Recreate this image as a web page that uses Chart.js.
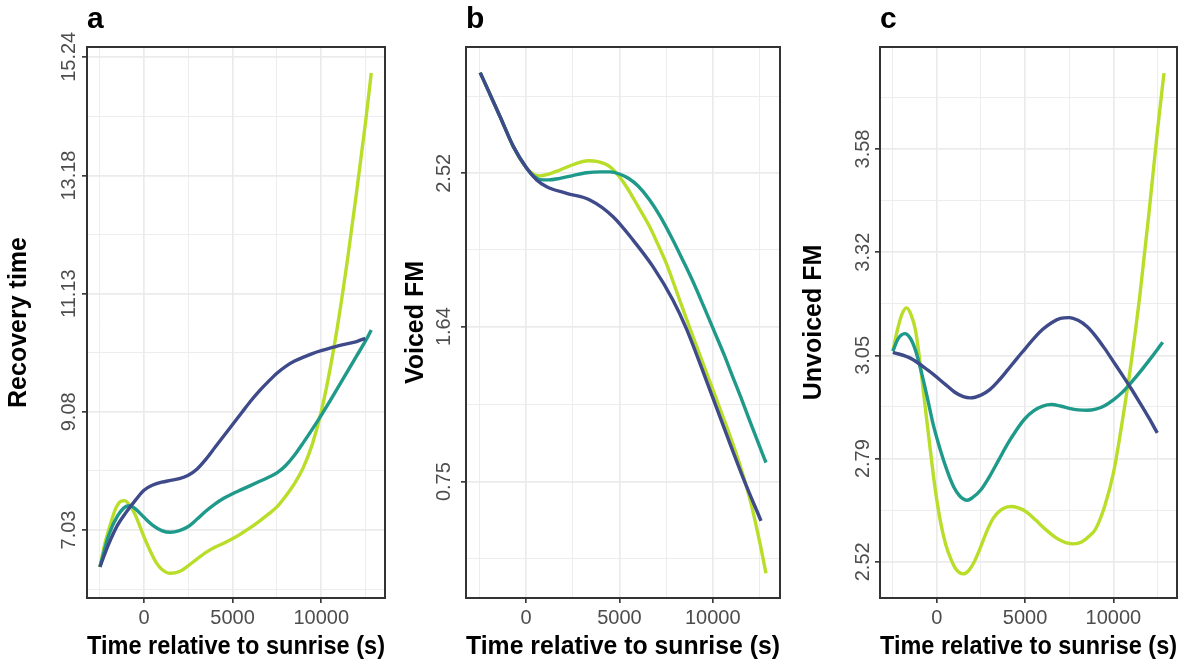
<!DOCTYPE html>
<html>
<head>
<meta charset="utf-8">
<script src="https://cdn.jsdelivr.net/npm/chart.js@4.4.1/dist/chart.umd.min.js"></script>
<style>
  html, body { margin: 0; padding: 0; background: #ffffff; }
  #fig { position: relative; width: 1202px; height: 664px; overflow: hidden; background: #ffffff; }
  .panel { position: absolute; top: 0; height: 664px; }
  .panel canvas { display: block; }
</style>
</head>
<body>
<div id="fig">
  <div class="panel" style="left:0px;width:400px"><canvas id="panelA"></canvas></div>
  <div class="panel" style="left:400px;width:400px"><canvas id="panelB"></canvas></div>
  <div class="panel" style="left:800px;width:402px"><canvas id="panelC"></canvas></div>
</div>
<script>
// ---- shared x axis (seconds relative to sunrise) ----
const timeTicks = [-2500, 0, 2500, 5000, 7500, 10000, 12500];
const timeTickLabels = ['', '0', '', '5000', '', '10000', ''];

// ---- a: recovery time ----
const recoveryTicks = [6.005, 7.03, 8.055, 9.08, 10.105, 11.13, 12.155, 13.18, 14.21, 15.24];
const recoveryTickLabels = ['', '7.03', '', '9.08', '', '11.13', '', '13.18', '', '15.24'];
const recoveryTimeBlue = [-2486, -2000, -1500, -1000, -500, 0, 500, 1000, 1500, 2000, 2500, 3000, 3500, 4000, 4500, 5000, 5500, 6000, 6500, 7000, 7500, 8000, 8500, 9000, 9500, 10000, 11000, 12000, 12486];
const recoveryBlue = [6.39, 6.78, 7.11, 7.34, 7.54, 7.72, 7.81, 7.86, 7.89, 7.92, 7.98, 8.09, 8.26, 8.46, 8.66, 8.86, 9.06, 9.26, 9.44, 9.60, 9.75, 9.87, 9.96, 10.03, 10.09, 10.14, 10.23, 10.30, 10.355];
const recoveryTimeTeal = [-2486, -2000, -1500, -1000, -800, -500, 0, 500, 1000, 1500, 2000, 2500, 3000, 3500, 4000, 4500, 5000, 5500, 6000, 6500, 7000, 7500, 8000, 8500, 9000, 9500, 10000, 10500, 11000, 11500, 12000, 12500, 12825];
const recoveryTeal = [6.39, 6.93, 7.27, 7.44, 7.45, 7.40, 7.25, 7.11, 7.02, 6.99, 7.02, 7.09, 7.22, 7.36, 7.48, 7.58, 7.66, 7.73, 7.80, 7.87, 7.94, 8.02, 8.15, 8.33, 8.55, 8.78, 9.02, 9.27, 9.53, 9.79, 10.05, 10.31, 10.5];
const recoveryTimeLime = [-2486, -2200, -1900, -1600, -1300, -1100, -800, -500, -200, 0, 300, 700, 1000, 1469, 2000, 2412, 3000, 3542, 4000, 4500, 5045, 5500, 6000, 6500, 7000, 7500, 8000, 8500, 9000, 9500, 10000, 10500, 11000, 11500, 12000, 12500, 12825];
const recoveryLime = [6.39, 6.80, 7.12, 7.40, 7.53, 7.54, 7.46, 7.30, 7.07, 6.91, 6.70, 6.46, 6.35, 6.28, 6.31, 6.39, 6.53, 6.65, 6.73, 6.80, 6.885, 6.97, 7.07, 7.18, 7.30, 7.43, 7.62, 7.84, 8.12, 8.52, 9.08, 9.82, 10.72, 11.76, 12.90, 14.10, 14.96];

// ---- b: voiced FM ----
const voicedTicks = [0.3075, 0.75, 1.195, 1.64, 2.08, 2.52, 2.96];
const voicedTickLabels = ['', '0.75', '', '1.64', '', '2.52', ''];
const voicedTimeBlue = [-2456, -2000, -1388, -678, 37, 571, 1105, 2173, 3417, 4661, 5729, 6797, 7864, 8580, 9648, 10716, 11604, 12582];
const voicedBlue = [3.098, 2.99, 2.845, 2.673, 2.549, 2.482, 2.443, 2.405, 2.367, 2.271, 2.137, 1.984, 1.793, 1.63, 1.333, 1.027, 0.778, 0.525];
const voicedTimeTeal = [-2456, -2000, -1388, -678, 37, 400, 747, 1200, 1815, 2500, 3240, 4000, 4500, 5000, 5500, 6000, 6620, 7200, 7864, 8400, 8932, 9500, 10090, 10600, 11068, 11500, 11960, 12400, 12850];
const voicedTeal = [3.098, 2.99, 2.845, 2.673, 2.549, 2.505, 2.484, 2.482, 2.491, 2.507, 2.523, 2.528, 2.528, 2.516, 2.49, 2.447, 2.367, 2.27, 2.137, 2.02, 1.90, 1.76, 1.61, 1.48, 1.352, 1.235, 1.104, 0.982, 0.859];
const voicedTimeLime = [-2456, -2000, -1388, -678, 37, 400, 747, 1200, 1815, 2500, 3326, 3900, 4485, 5000, 5376, 6000, 6620, 7050, 7512, 8100, 8740, 9400, 10000, 10500, 11000, 11500, 12000, 12500, 12850];
const voicedLime = [3.098, 2.99, 2.845, 2.673, 2.549, 2.515, 2.505, 2.515, 2.539, 2.569, 2.592, 2.585, 2.558, 2.50, 2.443, 2.33, 2.213, 2.115, 2.003, 1.83, 1.64, 1.45, 1.28, 1.135, 0.99, 0.83, 0.645, 0.41, 0.224];

// ---- c: unvoiced FM ----
const unvoicedTicks = [2.52, 2.6525, 2.785, 2.9175, 3.05, 3.1825, 3.315, 3.4475, 3.58, 3.7125];
const unvoicedTickLabels = ['2.52', '', '2.79', '', '3.05', '', '3.32', '', '3.58', ''];
const unvoicedTimeBlue = [-2486, -1500, -500, 500, 1000, 1500, 1900, 2500, 3000, 3500, 4000, 4500, 5000, 5500, 6000, 6500, 7000, 7500, 8000, 8500, 9000, 9500, 10000, 10500, 11000, 11500, 12000, 12486];
const unvoicedBlue = [3.058, 3.043, 3.012, 2.975, 2.956, 2.944, 2.941, 2.948, 2.962, 2.985, 3.012, 3.040, 3.067, 3.094, 3.117, 3.134, 3.145, 3.147, 3.140, 3.124, 3.099, 3.068, 3.034, 3.000, 2.965, 2.928, 2.890, 2.851];
const unvoicedTimeTeal = [-2486, -2200, -1808, -1500, -1203, -900, -542, -200, 209, 600, 960, 1300, 1718, 2000, 2500, 3000, 3500, 4000, 4500, 5000, 5500, 6000, 6500, 7000, 7500, 8000, 8500, 9000, 9500, 10000, 10500, 11000, 11500, 12000, 12500, 12790];
const unvoicedTeal = [3.061, 3.092, 3.106, 3.094, 3.063, 3.012, 2.943, 2.872, 2.806, 2.752, 2.712, 2.689, 2.678, 2.684, 2.705, 2.74, 2.781, 2.822, 2.858, 2.888, 2.908, 2.920, 2.924, 2.920, 2.914, 2.910, 2.909, 2.912, 2.921, 2.936, 2.955, 2.980, 3.007, 3.036, 3.066, 3.084];
const unvoicedTimeLime = [-2486, -2237, -1980, -1720, -1460, -1203, -1000, -700, -400, -100, 200, 500, 800, 1100, 1491, 1800, 2100, 2500, 2847, 3200, 3599, 4000, 4260, 4700, 5107, 5600, 6237, 6800, 7300, 7740, 8200, 8684, 9000, 9500, 10000, 10500, 11000, 11500, 12000, 12500, 12864];
const unvoicedLime = [3.061, 3.114, 3.155, 3.172, 3.155, 3.114, 3.05, 2.935, 2.82, 2.71, 2.625, 2.565, 2.527, 2.500, 2.489, 2.497, 2.518, 2.56, 2.60, 2.632, 2.652, 2.661, 2.662, 2.657, 2.647, 2.627, 2.60, 2.58, 2.569, 2.566, 2.571, 2.588, 2.605, 2.662, 2.748, 2.880, 3.030, 3.205, 3.41, 3.63, 3.775];

// ---- styling ----
const COLOR_BLUE = '#3E4A89';
const COLOR_TEAL = '#1F9A8A';
const COLOR_LIME = '#B8DE29';
const FONT = "'Liberation Sans', Arial, Helvetica, sans-serif";
const GRID = '#EBEBEB';
const INK = '#333333';
const TICK_TEXT = '#4D4D4D';

function points(xs, ys) { return xs.map((x, i) => ({ x: x, y: ys[i] })); }

function series(xs, ys, color) {
  return {
    data: points(xs, ys),
    borderColor: color,
    backgroundColor: color,
    borderWidth: 3.4,
    pointRadius: 0,
    fill: false,
    cubicInterpolationMode: 'monotone',
    borderCapStyle: 'butt',
    borderJoinStyle: 'round'
  };
}

function tickObjects(values, labels) {
  return values.map((v, i) => ({ value: v, text: labels[i], minor: labels[i] === '' }));
}

// panel frame, rotated y tick labels and the panel letter
const panelDecor = {
  id: 'panelDecor',
  afterDatasetsDraw(chart) {
    const { ctx, chartArea } = chart;
    ctx.save();
    ctx.strokeStyle = INK;
    ctx.lineWidth = 2;
    ctx.strokeRect(chartArea.left, chartArea.top, chartArea.right - chartArea.left, chartArea.bottom - chartArea.top);
    ctx.restore();
  },
  afterDraw(chart, args, opts) {
    const { ctx, chartArea } = chart;
    const yScale = chart.scales.y;
    ctx.save();
    ctx.fillStyle = TICK_TEXT;
    ctx.font = '20px ' + FONT;
    ctx.textAlign = 'center';
    ctx.textBaseline = 'middle';
    yScale.ticks.forEach(t => {
      if (t.minor) return;
      const py = yScale.getPixelForValue(t.value);
      ctx.save();
      ctx.translate(opts.labelX, py);
      ctx.rotate(-Math.PI / 2);
      ctx.fillText(t.text, 0, 0);
      ctx.restore();
    });
    ctx.fillStyle = '#000000';
    ctx.font = 'bold 30px ' + FONT;
    ctx.textAlign = 'left';
    ctx.textBaseline = 'alphabetic';
    ctx.fillText(opts.tag, chartArea.left, 28);
    ctx.restore();
  }
};

function gridOptions() {
  return {
    color: GRID,
    lineWidth: c => (c.tick && c.tick.minor ? 0.9 : 1.7),
    drawTicks: true,
    tickLength: 5,
    tickWidth: 1.6,
    tickColor: c => (c.tick && c.tick.minor ? 'rgba(0,0,0,0)' : INK)
  };
}

function makePanel(canvasId, cfg) {
  const yTickObjs = tickObjects(cfg.yTicks, cfg.yLabels);
  const xTickObjs = tickObjects(timeTicks, timeTickLabels);
  return new Chart(document.getElementById(canvasId), {
    type: 'line',
    data: { datasets: cfg.datasets },
    plugins: [panelDecor],
    options: {
      responsive: true,
      maintainAspectRatio: false,
      animation: false,
      devicePixelRatio: 1,
      events: [],
      layout: { padding: { left: 0, right: cfg.padRight, top: 47, bottom: 0 } },
      plugins: {
        legend: { display: false },
        tooltip: { enabled: false },
        panelDecor: { labelX: cfg.labelX, tag: cfg.tag }
      },
      scales: {
        x: {
          type: 'linear',
          min: -3215,
          max: 13600,
          afterBuildTicks(scale) { scale.ticks = xTickObjs.map(t => Object.assign({}, t)); },
          afterFit(scale) { scale.height = 66; },
          ticks: {
            autoSkip: false,
            maxRotation: 0,
            minRotation: 0,
            padding: 3,
            color: TICK_TEXT,
            font: { family: FONT, size: 20 },
            callback(value, index, ticks) { return ticks[index].text; }
          },
          grid: gridOptions(),
          border: { display: false },
          title: {
            display: true,
            text: 'Time relative to sunrise (s)',
            color: '#000000',
            font: { family: FONT, size: 25, weight: 'bold', lineHeight: 1 },
            padding: { top: 0, bottom: 4 }
          }
        },
        y: {
          type: 'linear',
          min: cfg.yMin,
          max: cfg.yMax,
          afterBuildTicks(scale) { scale.ticks = yTickObjs.map(t => Object.assign({}, t)); },
          afterFit(scale) { scale.width = cfg.axisWidth; },
          ticks: { display: false },
          grid: gridOptions(),
          border: { display: false },
          title: {
            display: true,
            text: cfg.yTitle,
            color: '#000000',
            font: { family: FONT, size: 25, weight: 'bold', lineHeight: 1 },
            padding: { top: cfg.titlePad, bottom: 0 }
          }
        }
      }
    }
  });
}

makePanel('panelA', {
  tag: 'a',
  yTitle: 'Recovery time',
  yTicks: recoveryTicks,
  yLabels: recoveryTickLabels,
  yMin: 5.85,
  yMax: 15.41,
  axisWidth: 87,
  padRight: 15,
  labelX: 69,
  titlePad: 7,
  datasets: [
    series(recoveryTimeBlue, recoveryBlue, COLOR_BLUE),
    series(recoveryTimeTeal, recoveryTeal, COLOR_TEAL),
    series(recoveryTimeLime, recoveryLime, COLOR_LIME)
  ]
});

makePanel('panelB', {
  tag: 'b',
  yTitle: 'Voiced FM',
  yTicks: voicedTicks,
  yLabels: voicedTickLabels,
  yMin: 0.082,
  yMax: 3.245,
  axisWidth: 66,
  padRight: 20,
  labelX: 44,
  titlePad: 4,
  datasets: [
    series(voicedTimeBlue, voicedBlue, COLOR_BLUE),
    series(voicedTimeTeal, voicedTeal, COLOR_TEAL),
    series(voicedTimeLime, voicedLime, COLOR_LIME)
  ]
});

makePanel('panelC', {
  tag: 'c',
  yTitle: 'Unvoiced FM',
  yTicks: unvoicedTicks,
  yLabels: unvoicedTickLabels,
  yMin: 2.427,
  yMax: 3.842,
  axisWidth: 80,
  padRight: 25,
  labelX: 63,
  titlePad: 2,
  datasets: [
    series(unvoicedTimeBlue, unvoicedBlue, COLOR_BLUE),
    series(unvoicedTimeTeal, unvoicedTeal, COLOR_TEAL),
    series(unvoicedTimeLime, unvoicedLime, COLOR_LIME)
  ]
});
</script>
</body>
</html>
